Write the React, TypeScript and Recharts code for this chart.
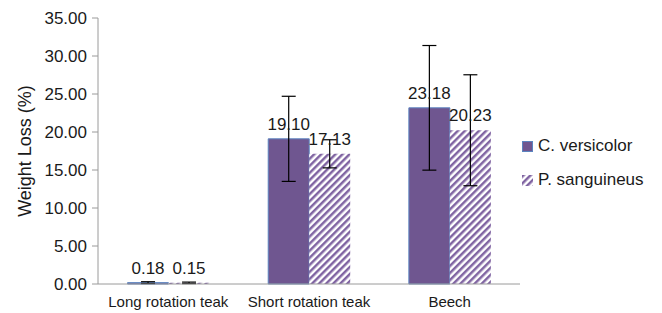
import React from 'react';
import { BarChart, Bar, XAxis, YAxis, ErrorBar, LabelList } from 'recharts';

const categories = ['Long rotation teak', 'Short rotation teak', 'Beech'];
const seriesNames = ['C. versicolor', 'P. sanguineus'];
const versicolor = [0.18, 19.1, 23.18];
const sanguineus = [0.15, 17.13, 20.23];
const versicolorErr = [0.12, 5.6, 8.2];
const sanguineusErr = [0.1, 1.85, 7.3];
const yTicks = [0, 5, 10, 15, 20, 25, 30, 35];
const edgeTicks = [0, 1, 2, 3];

const data = categories.map((c, i) => ({
  name: c,
  cv: versicolor[i],
  ps: sanguineus[i],
  cvErr: versicolorErr[i],
  psErr: sanguineusErr[i],
}));

const FONT = 'Liberation Sans, Arial, Helvetica, sans-serif';
const TEXT = '#1a1a1a';
const AXIS = '#9a9a9a';
const SOLID = '#6F5690';
const STRIPE = '#8064A2';

export default function App() {
  return (
    <div style={{ position: 'absolute', left: 0, top: 0, width: 662, height: 313, fontFamily: FONT, background: '#fff' }}>
      <BarChart
        width={662}
        height={313}
        data={data}
        margin={{ top: 18, right: 142, bottom: 0, left: 0 }}
        barCategoryGap="21%"
        barGap={0}
      >
        <defs>
          <pattern id="hatch" patternUnits="userSpaceOnUse" width="5" height="5" patternTransform="rotate(45)">
            <rect x="0" y="0" width="5" height="5" fill="#ffffff" />
            <rect x="0" y="0" width="2.5" height="5" fill={STRIPE} />
          </pattern>
        </defs>
        <XAxis
          xAxisId="edges"
          type="number"
          domain={[0, 3]}
          ticks={edgeTicks}
          height={0}
          axisLine={false}
          tick={false}
          tickLine={{ stroke: AXIS }}
          tickSize={6}
        />
        <XAxis
          dataKey="name"
          height={29}
          axisLine={{ stroke: AXIS }}
          tickLine={false}
          tick={{ fontSize: 15, fill: TEXT, fontFamily: FONT }}
          tickMargin={6}
        />
        <YAxis
          width={98}
          domain={[0, 35]}
          ticks={yTicks}
          tickFormatter={(v: number) => v.toFixed(2)}
          axisLine={{ stroke: AXIS }}
          tickLine={{ stroke: AXIS }}
          tickSize={6}
          tickMargin={5}
          tick={{ fontSize: 17, fill: TEXT, fontFamily: FONT }}
          label={{
            value: 'Weight Loss (%)',
            angle: -90,
            position: 'insideLeft',
            offset: 25,
            style: { textAnchor: 'middle', fontSize: 18, fill: TEXT, fontFamily: FONT },
          }}
        />
        <Bar dataKey="cv" name={seriesNames[0]} fill={SOLID} stroke="#5b84c0" strokeWidth={1} isAnimationActive={false}>
          <ErrorBar dataKey="cvErr" width={7} stroke="#000" strokeWidth={1.2} direction="y" />
          <LabelList dataKey="cv" position="top" offset={9} formatter={(v: number) => v.toFixed(2)} style={{ fontSize: 17, fill: TEXT, fontFamily: FONT }} />
        </Bar>
        <Bar dataKey="ps" name={seriesNames[1]} fill="url(#hatch)" isAnimationActive={false}>
          <ErrorBar dataKey="psErr" width={7} stroke="#000" strokeWidth={1.2} direction="y" />
          <LabelList dataKey="ps" position="top" offset={9} formatter={(v: number) => v.toFixed(2)} style={{ fontSize: 17, fill: TEXT, fontFamily: FONT }} />
        </Bar>
      </BarChart>
      <div style={{ position: 'absolute', left: 522, top: 137, fontSize: 17, color: TEXT, lineHeight: '18px' }}>
        {seriesNames.map((n, i) => (
          <div key={n} style={{ display: 'flex', alignItems: 'center', height: 18, marginBottom: 16 }}>
            <svg width={11} height={11} style={{ marginRight: 5 }}>
              {i === 0 ? (
                <rect x={0.5} y={0.5} width={10} height={10} fill={SOLID} stroke="#5b84c0" strokeWidth={1} />
              ) : (
                <rect x={0} y={0} width={11} height={11} fill="url(#hatch)" />
              )}
            </svg>
            <span>{n}</span>
          </div>
        ))}
      </div>
    </div>
  );
}
